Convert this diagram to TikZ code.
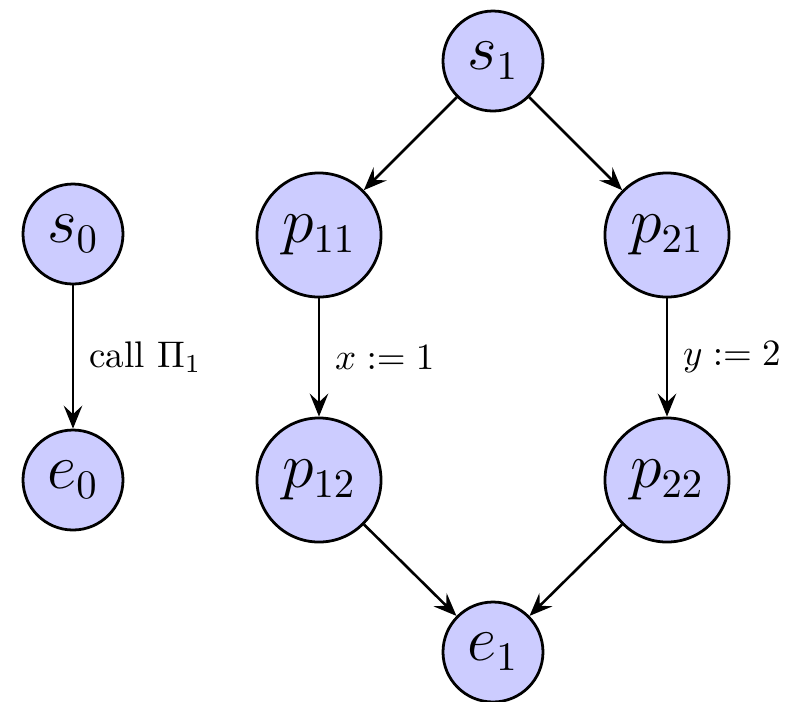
\documentclass[tikz,border=0pt]{standalone}
\usetikzlibrary{arrows.meta}
\begin{document}
\begin{tikzpicture}[x=0.27pt,y=-0.27pt,
  state/.style={circle,draw=black,line width=0.75pt,fill=blue!20,inner sep=0pt,
    minimum size=27pt,font=\fontsize{16}{19}\selectfont},
  bigstate/.style={state,minimum size=33.5pt},
  edge/.style={line width=0.7pt,-{Stealth[length=6.2pt,width=5pt,inset=2.3pt]}},
  lbl/.style={right,inner sep=4pt,font=\normalsize}]
\useasboundingbox (0,0) rectangle (799,701);
\node[state] (s0) at (73,234) {$s_0$};
\node[state] (e0) at (73,480) {$e_0$};
\node[state] (s1) at (493,61) {$s_1$};
\node[bigstate] (p11) at (319,235) {$p_{11}$};
\node[bigstate] (p21) at (667,235) {$p_{21}$};
\node[bigstate] (p12) at (319,480) {$p_{12}$};
\node[bigstate] (p22) at (667,480) {$p_{22}$};
\node[state] (e1) at (493,652) {$e_1$};
\draw[edge] (s0) -- node[lbl] (l0) {call $\Pi_1$} (e0);
\draw[edge] (s1) -- (p11);
\draw[edge] (s1) -- (p21);
\draw[edge] (p11) -- node[lbl] (l1) {$x := 1$} (p12);
\draw[edge] (p21) -- node[lbl] (l2) {$y := 2$} (p22);
\draw[edge] (p12) -- (e1);
\draw[edge] (p22) -- (e1);
\end{tikzpicture}
\end{document}
